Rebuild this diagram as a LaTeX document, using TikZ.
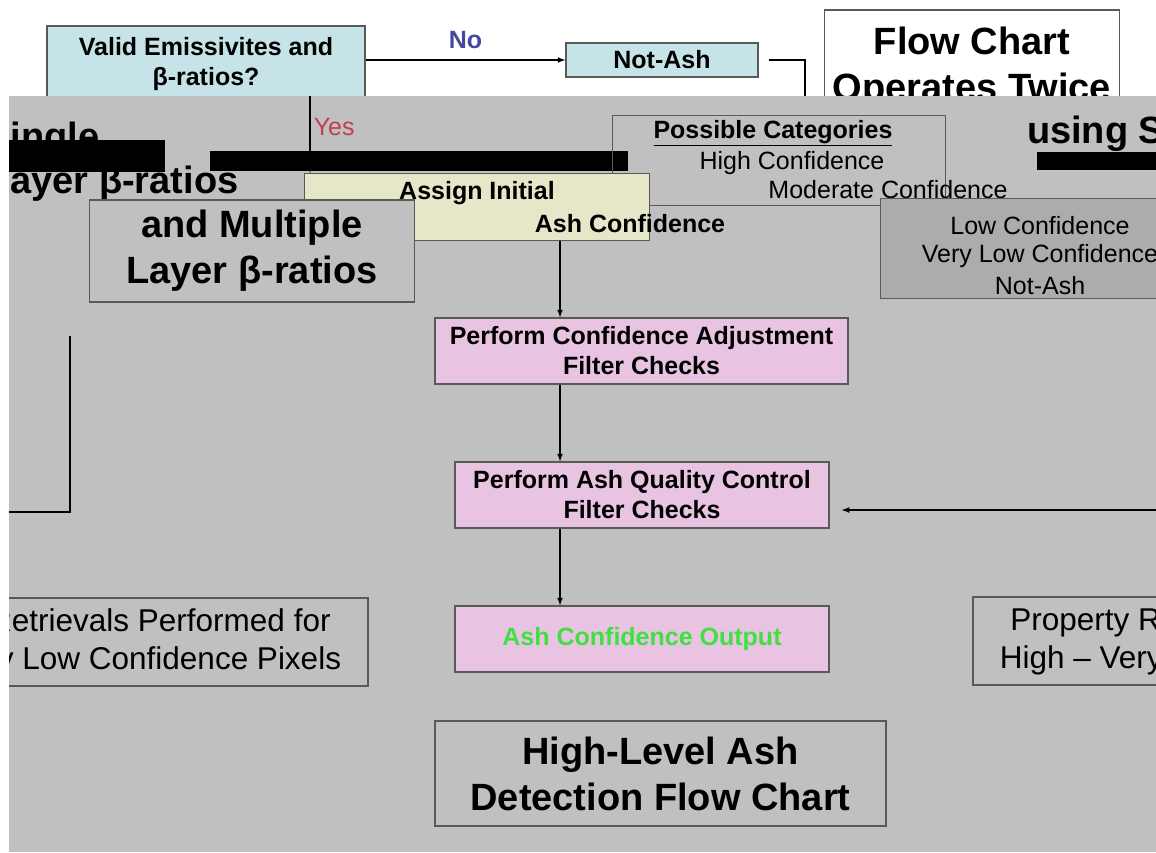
\documentclass[tikz,border=0pt]{standalone}
\usepackage{fontspec}
\setmainfont{Liberation Sans}
\usetikzlibrary{arrows}

\definecolor{ashblue}{RGB}{198,228,232}
\definecolor{ashpink}{RGB}{232,196,226}
\definecolor{ashyellow}{RGB}{230,230,200}
\definecolor{ashgrey}{RGB}{192,192,192}
\definecolor{ashdark}{RGB}{172,172,172}
\definecolor{ashgreen}{RGB}{64,224,64}
\definecolor{noblue}{RGB}{64,72,160}
\definecolor{yesred}{RGB}{192,64,80}

\begin{document}
\begin{tikzpicture}[x=1pt,y=-1pt,
  box/.style={draw=black!65,line width=1.3pt,inner sep=0pt,align=center},
  mid/.style={font=\fontsize{25}{30}\selectfont\bfseries},
  big/.style={font=\fontsize{38}{46}\selectfont\bfseries},
  plain/.style={font=\fontsize{25}{30}\selectfont},
  wide/.style={font=\fontsize{31.5}{38}\selectfont},
  link/.style={line width=1.6pt,-latex}]

\useasboundingbox (0,0) rectangle (1156,852);
\fill[white] (0,0) rectangle (1156,852);

% top row
\node[box,fill=ashblue,mid,minimum width=318,minimum height=76] (dec) at (206,64) {Valid Emissivites and\\β-ratios?};
\node[box,fill=ashblue,mid,minimum width=192,minimum height=34] (notash) at (662,60) {Not-Ash};
\node[box,fill=white,big,minimum width=295,minimum height=116] (flow) at (972,68) {Flow Chart\\Operates Twice};

\draw[link] (dec.east |- notash.west) -- node[above=8pt,inner sep=2pt,mid,text=noblue] {No} (notash.west);
\coordinate (nadown) at (805,96);
\draw[line width=1.6pt] ([xshift=10pt]notash.east) -- (nadown |- notash.east) -- (nadown);

% grey panel
\fill[ashgrey] (9,96) rectangle (1156,852);

\begin{scope}
\clip (1020,96) rectangle (1156,150);
\node[big,anchor=base,inner sep=0pt] (flowb) at (1140,143) {using Single};
\end{scope}
\node[big,anchor=base west,inner sep=0pt] (singlea) at (-15,149) {Single};
\node[big,anchor=base west,inner sep=0pt] (singleb) at (-13,193) {Layer β-ratios};

\fill[black] (9,140) rectangle (165,172);
\fill[black] (210,151) rectangle (628,171);
\fill[black] (1037,152) rectangle (1156,170);

% categories
\node[box,minimum width=333,minimum height=90,anchor=north west] (cats) at (612,115) {};
\node[mid,inner sep=0pt] (catt) at (773,133) {\underline{Possible Categories}};
\node[plain,inner sep=0pt] (cat1) at (792,163) {High Confidence};
\node[plain,inner sep=0pt] (cat2) at (888,190) {Moderate Confidence};
\node[box,fill=ashdark,minimum width=290,minimum height=100,anchor=north west] (lowcats) at (880,198) {};
\node[plain,inner sep=0pt] (cat3) at (1040,226) {Low Confidence};
\node[plain,inner sep=0pt] (cat4) at (1040,256) {Very Low Confidence};
\node[plain,inner sep=0pt] (cat5) at (1040,286) {Not-Ash};

\node[box,fill=ashyellow,mid,minimum width=345,minimum height=67] (assign) at (477,207) {};
\node[mid,inner sep=0pt] (assigna) at (477,193) {Assign Initial};
\node[mid,inner sep=0pt] (assignb) at (630,224) {Ash Confidence};
\node[box,fill=ashgrey,big,minimum width=325,minimum height=102] (multi) at (252,251) {and Multiple\\Layer β-ratios};

\coordinate (yestop) at (310,96);
\draw[link] (yestop) -- node[pos=0.4,right=3pt,inner sep=0pt,plain,text=yesred] {Yes} (assign.north -| yestop);

% main column
\node[box,fill=ashpink,mid,minimum width=413,minimum height=66] (adj) at (641.5,351) {Perform Confidence Adjustment\\Filter Checks};
\node[box,fill=ashpink,mid,minimum width=374,minimum height=66] (qc) at (642,495) {Perform Ash Quality Control\\Filter Checks};
\node[box,fill=ashpink,mid,text=ashgreen,minimum width=374,minimum height=66] (out) at (642,639) {Ash Confidence Output};

\coordinate (spine) at (560,0);
\draw[link] (assign.south -| spine) -- (adj.north -| spine);
\draw[link] (adj.south -| spine) -- (qc.north -| spine);
\draw[link] (qc.south -| spine) -- (out.north -| spine);

\coordinate (qcin) at (1160,510);
\draw[link,shorten >=12pt] (qcin) -- (qc.east |- qcin);

\node[box,wide,minimum width=544,minimum height=88] (retl) at (96,642) {Property Retrievals Performed for\\High – Very Low Confidence Pixels};
\node[box,wide,minimum width=544,minimum height=88] (retr) at (1245,641) {Property Retrievals Performed for\\High – Very Low Confidence Pixels};

\node[box,big,minimum width=451,minimum height=105] (title) at (660.5,773.5) {High-Level Ash\\Detection Flow Chart};

\coordinate (loopa) at (70,336);
\coordinate (loopb) at (9,512);
\draw[line width=1.6pt] (loopa) -- (loopa |- loopb) -- (loopb);

\fill[white] (0,0) rectangle (9,852);

\end{tikzpicture}
\end{document}
